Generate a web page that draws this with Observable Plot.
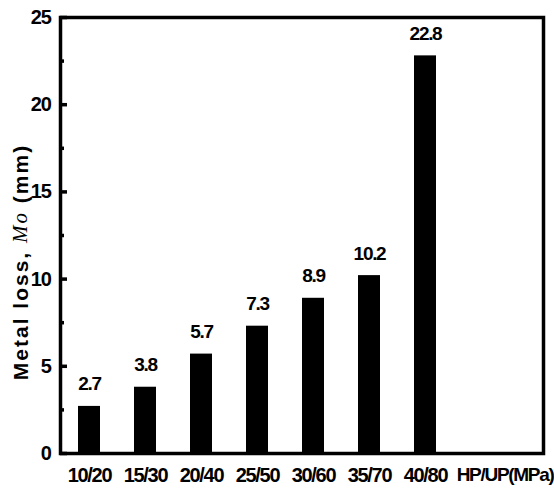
<!DOCTYPE html>
<html>
<head>
<meta charset="utf-8">
<script src="https://cdn.jsdelivr.net/npm/d3@7"></script>
<script src="https://cdn.jsdelivr.net/npm/@observablehq/plot@0.6"></script>
<style>
  html, body { margin: 0; padding: 0; background: #fff; }
  #chart svg { display: block; }
  #chart svg text { letter-spacing: -1.3px; }
  #chart svg text.ytitle { letter-spacing: 2px; }
</style>
</head>
<body>
<div id="chart"></div>
<script>
const categories = ["10/20", "15/30", "20/40", "25/50", "30/60", "35/70", "40/80"];
const metalLoss = [2.7, 3.8, 5.7, 7.3, 8.9, 10.2, 22.8];
const yMajorTicks = [0, 5, 10, 15, 20, 25];
const yMinorTicks = [2.5, 7.5, 12.5, 17.5, 22.5];
const xAxisName = "HP/UP(MPa)";
const yTitleParts = ["Metal loss, ", "Mo", " (mm)"];

const data = categories.map((c, i) => ({cat: c, value: metalLoss[i]}));

const W = 554, H = 489;
const mL = 60, mR = 11, mT = 17, mB = 36;
const plotW = W - mL - mR;
const sans = "'Liberation Sans', Arial, sans-serif";

const chart = Plot.plot({
  width: W,
  height: H,
  marginLeft: mL,
  marginRight: mR,
  marginTop: mT,
  marginBottom: mB,
  style: {fontFamily: sans, fontWeight: "bold", color: "#000", background: "#fff"},
  x: {type: "band", domain: categories, paddingInner: 0.6, paddingOuter: 0.3, insetRight: 88, axis: null},
  y: {domain: [0, 25], axis: null},
  marks: [
    Plot.barY(data, {x: "cat", y: "value", fill: "#000"}),
    Plot.text(data, {x: "cat", y: "value", text: d => d.value.toFixed(1), lineAnchor: "bottom", dy: -16, fontSize: 19, fontWeight: "bold", fill: "#000"}),
    Plot.axisX({tickSize: 0, tickPadding: 14, fontSize: 20, fontWeight: "bold", label: null}),
    Plot.text([xAxisName], {frameAnchor: "bottom-right", text: d => d, textAnchor: "end", lineAnchor: "top", dx: 10, dy: 14, fontSize: 19, fontWeight: "bold", fill: "#000"}),
    Plot.axisY({ticks: yMajorTicks, tickSize: 0, tickPadding: 10, fontSize: 20, fontWeight: "bold", label: null}),
    Plot.tickY(yMajorTicks, {y: d => d, insetRight: plotW - 7, strokeWidth: 3.5, stroke: "#000"}),
    Plot.tickY(yMinorTicks, {y: d => d, insetRight: plotW - 4, strokeWidth: 3.5, stroke: "#000"}),
    Plot.frame({strokeWidth: 3.5, stroke: "#000"})
  ]
});

document.getElementById("chart").appendChild(chart);

// Y axis title with italic serif "Mo"
const svg = d3.select(chart);
const t = svg.append("text")
  .attr("class", "ytitle")
  .attr("transform", `translate(20, 262) rotate(-90)`)
  .attr("text-anchor", "middle")
  .attr("dominant-baseline", "central")
  .attr("font-family", sans)
  .attr("font-weight", "bold")
  .attr("font-size", 21)
  .attr("fill", "#000");
t.append("tspan").text(yTitleParts[0]);
t.append("tspan").attr("font-family", "'Liberation Serif', 'Times New Roman', serif").attr("font-style", "italic").attr("font-weight", "normal").text(yTitleParts[1]);
t.append("tspan").text(yTitleParts[2]);
</script>
</body>
</html>
